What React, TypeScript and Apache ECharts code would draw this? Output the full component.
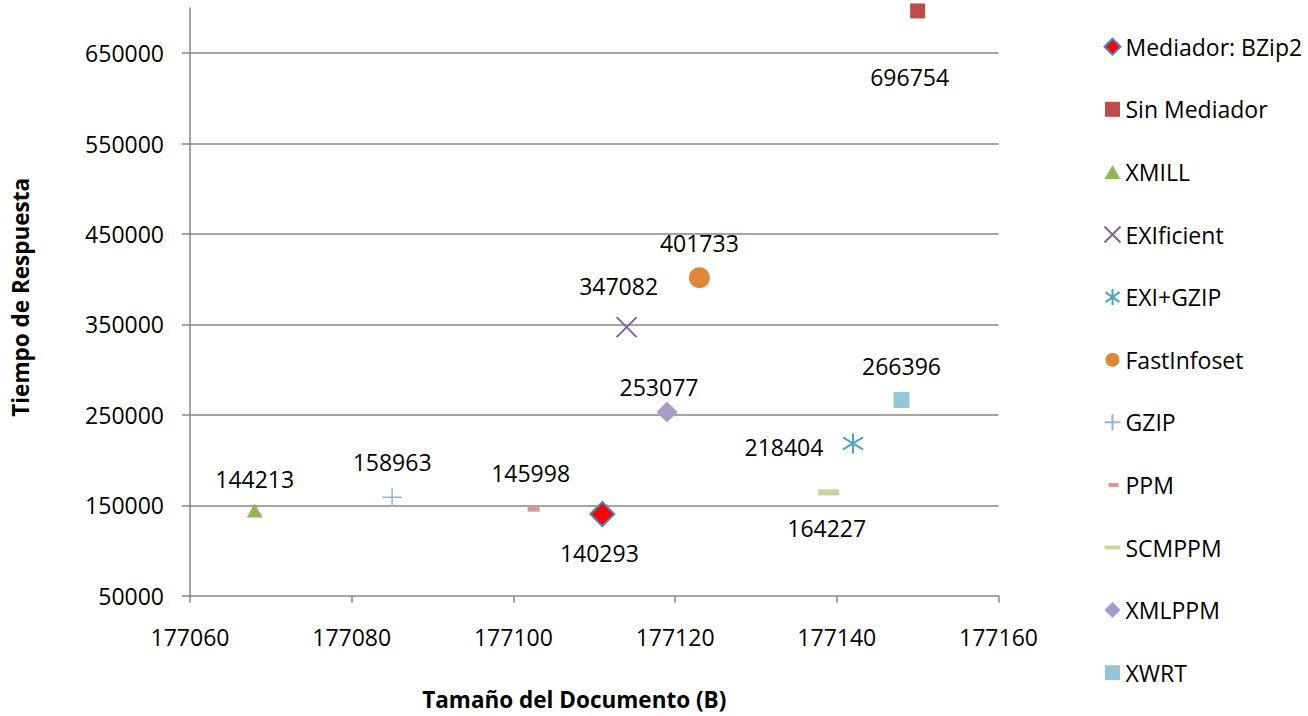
import React, { useEffect, useRef } from 'react';
import * as echarts from 'echarts';

const seriesNames = ['Mediador: BZip2', 'Sin Mediador', 'XMILL', 'EXIficient', 'EXI+GZIP', 'FastInfoset', 'GZIP', 'PPM', 'SCMPPM', 'XMLPPM', 'XWRT'];
const docSizes = [177111, 177150, 177068, 177114, 177142, 177123, 177085, 177102.5, 177139, 177119, 177148];
const responseTimes = [140293, 696754, 144213, 347082, 218404, 401733, 158963, 145998, 164227, 253077, 266396];
const xTickValues = [177060, 177080, 177100, 177120, 177140, 177160];
const yTickValues = [50000, 150000, 250000, 350000, 450000, 550000, 650000];
const yMax = 700000;

const xTitle = 'Tamaño del Documento (B)';
const yTitle = 'Tiempo de Respuesta';

const FONT = "'Open Sans', 'Noto Sans', sans-serif";
const AXIS_GRAY = '#878787';

type MarkStyle = {
  symbol: string;
  size: number | number[];
  fill: string;
  stroke?: string;
  strokeWidth?: number;
  offset: number[];
  icon: string;
};

const X_PATH = 'path://M0,0L20,20M20,0L0,20';
const PLUS_PATH = 'path://M10,0L10,20M0,10L20,10';
const STAR_PATH = 'path://M10,0L10,20M1,4L19,16M19,4L1,16';

const markStyles: MarkStyle[] = [
  { symbol: 'diamond', size: 24, fill: '#FF0000', stroke: '#4F81BD', strokeWidth: 2, offset: [-3, 39], icon: 'diamond' },
  { symbol: 'rect', size: 15, fill: '#BE4B48', offset: [-8, 66], icon: 'path://M0,0M0.5,0.5h15v15h-15zM16,16' },
  { symbol: 'triangle', size: [16, 14], fill: '#93B655', offset: [0, -32], icon: 'path://M0,0M8,1L16,15H0zM16,16' },
  { symbol: X_PATH, size: 20, fill: 'none', stroke: '#7E62A1', strokeWidth: 2, offset: [-8, -41], icon: 'path://M0,0L16,16M16,0L0,16' },
  { symbol: STAR_PATH, size: 20, fill: 'none', stroke: '#46A5C0', strokeWidth: 2, offset: [-69, 4], icon: 'path://M8,0L8,16M1,3L15,13M15,3L1,13' },
  { symbol: 'circle', size: 21, fill: '#E2873A', offset: [0, -35], icon: 'path://M0,0M8,1A7,7,0,1,1,7.99,1zM16,16' },
  { symbol: PLUS_PATH, size: 19, fill: 'none', stroke: '#95B3D7', strokeWidth: 1.5, offset: [0, -35], icon: 'path://M8,0L8,16M0,8L16,8' },
  { symbol: 'rect', size: [12, 5.5], fill: '#D99694', offset: [-3, -36], icon: 'path://M0,0M4,6h10v4h-10zM16,16' },
  { symbol: 'rect', size: [21, 6], fill: '#C3D69B', offset: [-2, 35.5], icon: 'path://M0,0M0,6h17v4h-17zM16,16' },
  { symbol: 'diamond', size: 21, fill: '#AA9BC6', offset: [-8, -25], icon: 'diamond' },
  { symbol: 'rect', size: 16, fill: '#92C6D8', offset: [0, -34], icon: 'path://M0,0M0.5,0.5h15v15h-15zM16,16' },
];

export default function App() {
  const ref = useRef<HTMLDivElement>(null);

  useEffect(() => {
    if (!ref.current) return;
    const chart = echarts.init(ref.current, null, { renderer: 'svg' });

    const series = seriesNames.map((name, i) => {
      const s = markStyles[i];
      return {
        name,
        type: 'scatter',
        symbol: s.symbol,
        symbolSize: s.size,
        data: [[docSizes[i], responseTimes[i]]],
        itemStyle: {
          color: s.fill,
          borderColor: s.stroke ?? s.fill,
          borderWidth: s.strokeWidth ?? 0,
          opacity: 1,
        },
        emphasis: { disabled: true },
        label: {
          show: true,
          position: 'inside',
          offset: s.offset,
          color: '#000000',
          fontFamily: FONT,
          fontSize: 23,
          textBorderWidth: 0,
          formatter: (p: any) => String(p.value[1]),
        },
        z: 3,
      };
    });

    chart.setOption({
      animation: false,
      backgroundColor: '#FFFFFF',
      textStyle: { fontFamily: FONT },
      grid: { left: 190, right: 309.5, top: 8, bottom: 120.3, containLabel: false },
      legend: {
        orient: 'vertical',
        left: 1102,
        top: 34.7,
        padding: 0,
        itemWidth: 16,
        itemHeight: 16,
        itemGap: 38.6,
        selectedMode: false,
        textStyle: { fontFamily: FONT, fontSize: 23, color: '#000000', lineHeight: 24 },
        data: seriesNames.map((name, i) => ({ name, icon: markStyles[i].icon })),
      },
      xAxis: {
        type: 'value',
        min: xTickValues[0],
        max: xTickValues[xTickValues.length - 1],
        interval: 20,
        name: xTitle,
        nameLocation: 'middle',
        nameGap: 92,
        nameTextStyle: { fontFamily: FONT, fontSize: 22.5, fontWeight: 'bold', color: '#000000', padding: [0, 40, 0, 0] },
        axisLine: { show: true, onZero: false, lineStyle: { color: AXIS_GRAY, width: 1.5 } },
        axisTick: { show: true, inside: false, length: 7, lineStyle: { color: AXIS_GRAY, width: 1.5 } },
        axisLabel: { margin: 30, color: '#000000', fontFamily: FONT, fontSize: 23, formatter: (v: number) => String(v) },
        splitLine: { show: false },
      },
      yAxis: {
        type: 'value',
        min: yTickValues[0],
        max: yMax,
        interval: 100000,
        name: yTitle,
        nameLocation: 'middle',
        nameGap: 158,
        nameTextStyle: { fontFamily: FONT, fontSize: 22.5, fontWeight: 'bold', color: '#000000', padding: [0, 0, 0, 9] },
        axisLine: { show: true, onZero: false, lineStyle: { color: AXIS_GRAY, width: 1.5 } },
        axisTick: { show: true, inside: false, length: 8, lineStyle: { color: AXIS_GRAY, width: 1.5 }, customValues: yTickValues },
        axisLabel: { margin: 26, color: '#000000', fontFamily: FONT, fontSize: 23, customValues: yTickValues, formatter: (v: number) => String(v) },
        splitLine: { show: true, showMinLine: false, lineStyle: { color: AXIS_GRAY, width: 1.5 } },
      },
      series,
    });

    return () => chart.dispose();
  }, []);

  return (
    <div
      ref={ref}
      style={{ position: 'fixed', left: 0, top: 0, width: 1308, height: 716, background: '#FFFFFF' }}
    />
  );
}
